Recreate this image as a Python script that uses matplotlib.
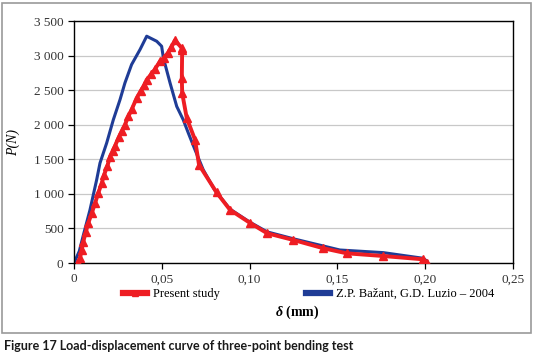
import matplotlib
matplotlib.use("Agg")
import matplotlib.pyplot as plt
from matplotlib.patches import Rectangle
from matplotlib.ticker import FuncFormatter

# Present study (red, triangles)
study_x = [0.002, 0.0034, 0.0044, 0.0053, 0.0068, 0.0081, 0.0101, 0.012, 0.0138, 0.0158,
           0.0171, 0.019, 0.0205, 0.022, 0.0233, 0.0255, 0.0272, 0.029, 0.031, 0.033,
           0.0357, 0.038, 0.040, 0.0414, 0.044, 0.046, 0.049, 0.051, 0.0535, 0.0555,
           0.0575, 0.0613, 0.0616, 0.0614, 0.0616, 0.0642, 0.0689, 0.0712, 0.0812, 0.0888,
           0.1002, 0.110, 0.1249, 0.142, 0.1553, 0.1761, 0.1989, 0.2008]
study_p = [0, 70, 190, 310, 455, 575, 720, 865, 1010, 1155,
           1275, 1400, 1540, 1620, 1690, 1820, 1910, 2000, 2120, 2230,
           2387, 2490, 2570, 2652, 2730, 2800, 2918, 2960, 3040, 3120,
           3222, 3111, 3080, 2677, 2459, 2097, 1783, 1420, 1020, 770,
           580, 430, 333, 213, 140, 101, 53, 0]

# Z.P. Bazant, G.D. Luzio - 2004 (blue)
bazant_x = [0, 0.003, 0.0053, 0.0091, 0.0129, 0.0148, 0.0186, 0.0224, 0.0262, 0.029,
            0.0328, 0.0376, 0.0414, 0.0471, 0.0499, 0.0509, 0.0547, 0.0585, 0.0622, 0.0651,
            0.0689, 0.0736, 0.080, 0.0888, 0.1002, 0.110, 0.125, 0.1514, 0.1761, 0.1989,
            0.2008]
bazant_p = [0, 170, 400, 768, 1203, 1445, 1735, 2072, 2362, 2604,
            2870, 3087, 3280, 3207, 3135, 2966, 2604, 2265, 2072, 1880,
            1638, 1348, 1060, 780, 590, 450, 350, 188, 150, 68,
            30]

x_ticks = [0, 0.05, 0.10, 0.15, 0.20, 0.25]
y_ticks = [0, 500, 1000, 1500, 2000, 2500, 3000, 3500]

red = "#ee1d23"
blue = "#1f3c96"
serif = ["Liberation Serif", "DejaVu Serif"]
plt.rcParams["mathtext.fontset"] = "custom"
plt.rcParams["mathtext.it"] = "Liberation Serif:italic:bold"

fig = plt.figure(figsize=(5.35, 3.59), dpi=100)
fig.patches.append(Rectangle((2 / 535, 1 - 333 / 359), 529 / 535, 330 / 359,
                             transform=fig.transFigure, fill=False,
                             edgecolor="#9a9a9a", lw=1.2))

ax = fig.add_axes([74 / 535, 1 - 263 / 359, 439 / 535, 242 / 359])
ax.plot(study_x, study_p, color=red, lw=2.8, marker="^", ms=6,
        markeredgecolor=red, label="Present study", zorder=3)
ax.plot(bazant_x, bazant_p, color=blue, lw=2.2, label="Z.P. Bažant, G.D. Luzio – 2004",
        zorder=2)

ax.set_xlim(0, 0.25)
ax.set_ylim(0, 3500)
ax.set_xticks(x_ticks)
ax.set_yticks(y_ticks)
ax.xaxis.set_major_formatter(FuncFormatter(lambda v, p: "0" if v == 0 else f"{v:.2f}".replace(".", ",")))
ax.yaxis.set_major_formatter(FuncFormatter(lambda v, p: f"{int(v):,}".replace(",", " ")))
ax.grid(axis="y", color="#c8c8c8", lw=0.9)
ax.set_axisbelow(True)
for s in ax.spines.values():
    s.set_linewidth(1.0)
ax.tick_params(direction="out", length=4, width=0.9, labelsize=9.5, colors="black")
for lab in ax.get_xticklabels() + ax.get_yticklabels():
    lab.set_family(serif)
    lab.set_color("#333333")

ax.set_ylabel("P(N)", family=serif, style="italic", fontsize=10, labelpad=10)
fig.text(297 / 535, 1 - 312 / 359, r"$\delta$ (mm)", family=serif, fontsize=10,
         weight="bold", ha="center", va="center")

leg = ax.legend(loc="center", bbox_to_anchor=(309 / 535, 1 - 294 / 359),
                bbox_transform=fig.transFigure, ncol=2, frameon=False,
                prop={"family": serif, "size": 9}, handlelength=1.9,
                columnspacing=6.9, handletextpad=0.5)
for h in leg.legend_handles:
    h.set_linewidth(4.5)
    h.set_markersize(5)

fig.text(4 / 535, 1 - 346 / 359, "Figure 17 Load-displacement curve of three-point bending test",
         family=["Lato", "DejaVu Sans"], weight="bold", fontsize=9.0,
         ha="left", va="center", color="#1a1a1a")

fig.savefig("out.png", dpi=100)
